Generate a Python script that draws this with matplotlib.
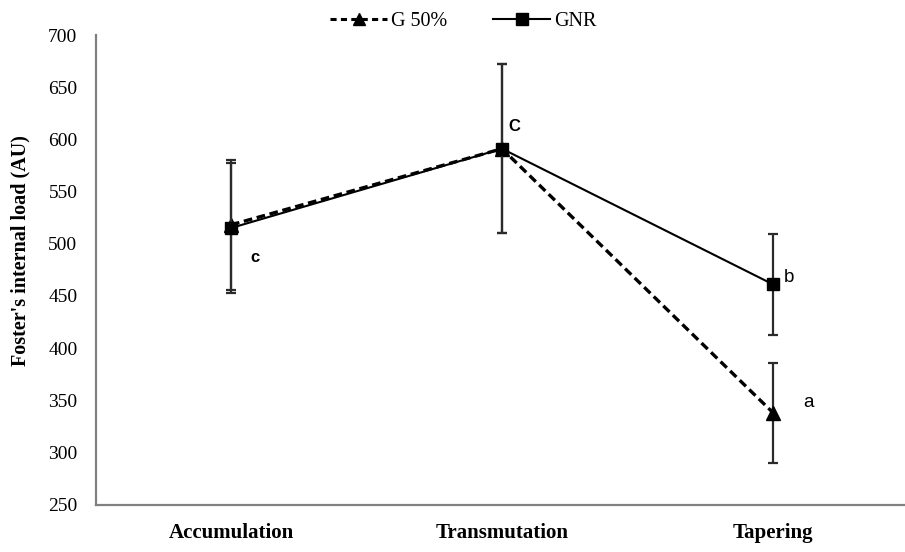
import matplotlib
matplotlib.use("Agg")
import matplotlib.pyplot as plt
from matplotlib.lines import Line2D

phases = ["Accumulation", "Transmutation", "Tapering"]
g50_mean = [518, 591, 338]
g50_sd = [62, 81, 48]
gnr_mean = [515, 591, 461]
gnr_sd = [62.5, 81, 48.5]
sig_letters = ["c", "C", "b", "a"]

y_ticks = [250, 300, 350, 400, 450, 500, 550, 600, 650, 700]

serif = ["Liberation Serif", "DejaVu Serif"]
sans = ["Liberation Sans", "DejaVu Sans"]

W, H = 905, 552
fig = plt.figure(figsize=(W / 100, H / 100), dpi=100)
ax = fig.add_axes([95.5 / W, 1 - 504.5 / H, 813 / W, 469.5 / H])

x = list(range(len(phases)))

err_kw = dict(ecolor="#2b2b2b", elinewidth=1.6, capsize=3.8, capthick=1.6)

ax.errorbar(x, g50_mean, yerr=g50_sd, color="black", linestyle=(0, (2.6, 1.4)),
            linewidth=2.4, marker="^", markersize=10, zorder=3, **err_kw)
ax.errorbar(x, gnr_mean, yerr=gnr_sd, color="black", linestyle="-",
            linewidth=1.5, marker="s", markersize=9, zorder=4, **err_kw)

# significance letters next to the points
ax.text(x[0] + 0.07, gnr_mean[0] - 28, sig_letters[0], fontsize=12,
        fontweight="bold", family=sans, ha="left", va="center")
ax.text(x[1] + 0.025, gnr_mean[1] + 21, sig_letters[1], fontsize=12,
        fontweight="bold", family=sans, ha="left", va="center")
ax.text(x[2] + 0.04, gnr_mean[2] + 7, sig_letters[2], fontsize=13.5,
        family=sans, ha="left", va="center")
ax.text(x[2] + 0.11, g50_mean[2] + 10, sig_letters[3], fontsize=13.5,
        family=sans, ha="left", va="center")

ax.set_xlim(-0.5, 2.5)
ax.set_ylim(250, 700)
ax.set_yticks(y_ticks)
ax.set_yticklabels([str(v) for v in y_ticks], family=serif, fontsize=14)
ax.set_xticks(x)
ax.set_xticklabels(phases, family=serif, fontsize=15, fontweight="bold")
ax.tick_params(axis="both", length=0)
ax.tick_params(axis="y", pad=13)
ax.tick_params(axis="x", pad=13)

for side in ("top", "right"):
    ax.spines[side].set_visible(False)
for side in ("left", "bottom"):
    ax.spines[side].set_color("#808080")
    ax.spines[side].set_linewidth(1.6)

fig.text(20 / W, 1 - 251 / H, "Foster's internal load (AU)", family=serif,
         fontsize=14.5, fontweight="bold", rotation=90, ha="center", va="center")

handles = [
    Line2D([], [], color="black", linestyle=(0, (2.0, 1.4)), linewidth=2.2,
           marker="^", markersize=9),
    Line2D([], [], color="black", linestyle="-", linewidth=1.5,
           marker="s", markersize=8),
]
fig.legend(handles, ["G 50%", "GNR"], loc="upper center",
           bbox_to_anchor=(0.512, 1.012), ncol=2, frameon=False,
           prop={"family": serif, "size": 14.5}, handlelength=2.8,
           handletextpad=0.2, columnspacing=2.3)

fig.savefig("out.png", dpi=100)
